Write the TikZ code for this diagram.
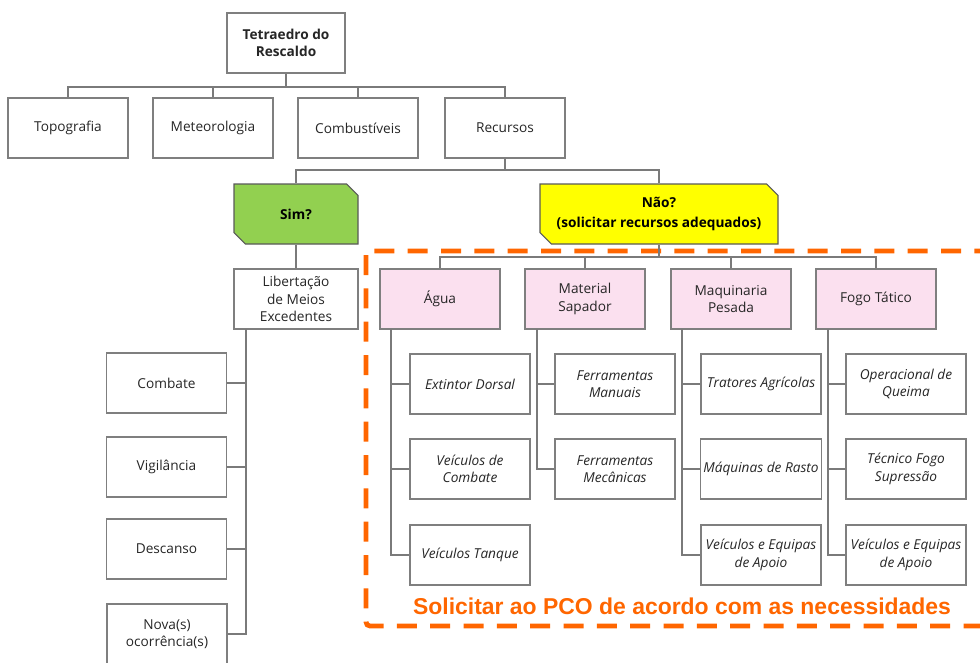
\documentclass[tikz,border=0pt]{standalone}
\usepackage{fontspec}
\setmainfont{Open Sans}
\newfontfamily\arialfont{Liberation Sans}
\usetikzlibrary{shapes.misc}
\definecolor{bgray}{HTML}{7F7F7F}
\definecolor{lgray}{HTML}{7A7A7A}
\definecolor{simgreen}{HTML}{92D050}
\definecolor{naoyellow}{HTML}{FFFF00}
\definecolor{pinkfill}{HTML}{FBE0EF}
\definecolor{orng}{HTML}{FF6600}
\tikzset{
  box/.style={draw=bgray, line width=0.8pt, fill=white, minimum width=90pt, minimum height=45pt,
    align=center, inner sep=2pt, font=\fontsize{10.25}{13}\selectfont, text=black!85},
  topbox/.style={box, font=\fontsize{10.25}{13}\selectfont\bfseries},
  pinkbox/.style={box, fill=pinkfill},
  itbox/.style={box, font=\fontsize{10.25}{13}\selectfont\itshape},
  decbox/.style={chamfered rectangle, chamfered rectangle corners={north east, south west},
    chamfered rectangle xsep=5pt, draw=black!65, line width=0.8pt, minimum height=45pt,
    align=center, inner sep=2pt, font=\fontsize{10.25}{15}\selectfont\bfseries},
  conn/.style={draw=lgray, line width=0.9pt},
  orangebox/.style={draw=orng, line width=3.6pt, dash pattern=on 15pt off 10pt, rounded corners=3pt}
}
\begin{document}
\begin{tikzpicture}[x=0.75pt, y=-0.75pt]
\useasboundingbox (0,0) rectangle (980,662);
\clip (0,0) rectangle (980,662);
% top
\node[topbox, minimum width=88.5pt] (tet) at (286,43) {Tetraedro do\\Rescaldo};
\node[box] (topo) at (68,128) {Topografia};
\node[box] (meteo) at (213,128) {Meteorologia};
\node[box] (comb) at (358,128) {Combustíveis};
\node[box] (rec) at (505,128) {Recursos};
\coordinate (b1) at (286,87);
\draw[conn] (topo.north) |- (b1) -| (rec.north);
\draw[conn] (tet.south) -- (b1);
\draw[conn] (meteo.north) -- (meteo.north |- b1);
\draw[conn] (comb.north) -- (comb.north |- b1);
% decision
\node[decbox, fill=simgreen, minimum width=93pt] (sim) at (296,214) {Sim?};
\node[decbox, fill=naoyellow, minimum width=178.5pt] (nao) at (659,214) {Não?\\(solicitar recursos adequados)};
\coordinate (b2) at (505,170);
\draw[conn] (rec.south) -- (b2);
\draw[conn] (sim.north) |- (b2) -| (nao.north);
% Sim branch
\node[box, minimum width=93pt] (lib) at (296,299) {Libertação\\de Meios\\Excedentes};
\draw[conn] (sim.south) -- (lib.north);
\node[box] (cmb) at (166.5,383) {Combate};
\node[box] (vig) at (166.5,467) {Vigilância};
\node[box] (des) at (166.5,549) {Descanso};
\node[box] (nova) at (167,634) {Nova(s)\\ocorrência(s)};
\coordinate (lt) at (246,329);
\draw[conn] (lt) |- (nova.east);
\draw[conn] (cmb.east) -- (cmb.east -| lt);
\draw[conn] (vig.east) -- (vig.east -| lt);
\draw[conn] (des.east) -- (des.east -| lt);
% orange frame
\draw[orangebox] (366,251) rectangle (1010,626);
% Não branch
\coordinate (b3) at (659,257);
\draw[conn] (nao.south) -- (b3);
\node[pinkbox] (agua) at (440,299) {Água};
\node[pinkbox] (mat) at (585,299) {Material\\Sapador};
\node[pinkbox] (maq) at (731,299) {Maquinaria\\Pesada};
\node[pinkbox] (fogo) at (876,299) {Fogo Tático};
\draw[conn] (agua.north) |- (b3) -| (fogo.north);
\draw[conn] (mat.north) -- (mat.north |- b3);
\draw[conn] (maq.north) -- (maq.north |- b3);
% Água children
\node[itbox] (ed) at (470,384) {Extintor Dorsal};
\node[itbox] (vc) at (470,469) {Veículos de\\Combate};
\node[itbox] (vt) at (470,555) {Veículos Tanque};
\coordinate (at) at (391,329);
\draw[conn] (at) |- (vt.west);
\draw[conn] (ed.west) -- (ed.west -| at);
\draw[conn] (vc.west) -- (vc.west -| at);
% Material children
\node[itbox] (fm) at (615,384) {Ferramentas\\Manuais};
\node[itbox] (fme) at (615,469) {Ferramentas\\Mecânicas};
\coordinate (mt) at (537,329);
\draw[conn] (mt) |- (fme.west);
\draw[conn] (fm.west) -- (fm.west -| mt);
% Maquinaria children
\node[itbox] (ta) at (761,384) {Tratores Agrícolas};
\node[itbox] (mr) at (761,469) {Máquinas de Rasto};
\node[itbox] (ve1) at (761,555) {Veículos e Equipas\\de Apoio};
\coordinate (qt) at (682,329);
\draw[conn] (qt) |- (ve1.west);
\draw[conn] (ta.west) -- (ta.west -| qt);
\draw[conn] (mr.west) -- (mr.west -| qt);
% Fogo children
\node[itbox] (oq) at (906,384) {Operacional de\\Queima};
\node[itbox] (tf) at (906,469) {Técnico Fogo\\Supressão};
\node[itbox] (ve2) at (906,555) {Veículos e Equipas\\de Apoio};
\coordinate (ft) at (828,329);
\draw[conn] (ft) |- (ve2.west);
\draw[conn] (oq.west) -- (oq.west -| ft);
\draw[conn] (tf.west) -- (tf.west -| ft);
% caption
\node[font=\arialfont\fontsize{17.2}{19}\selectfont\bfseries, text=orng, inner sep=0pt] (cap) at (682,606) {Solicitar ao PCO de acordo com as necessidades};
\end{tikzpicture}
\end{document}
